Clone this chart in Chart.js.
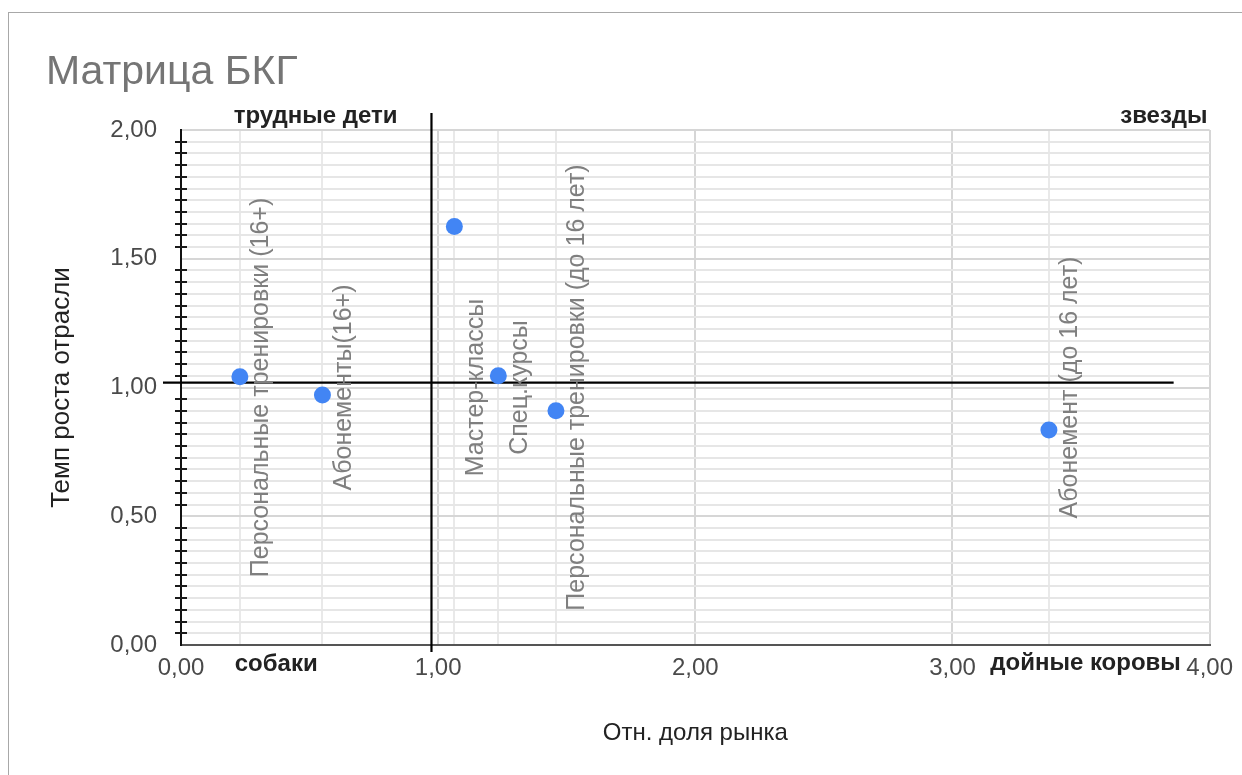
<!DOCTYPE html>
<html>
<head>
<meta charset="utf-8">
<title>Матрица БКГ</title>
<script src="https://cdn.jsdelivr.net/npm/chart.js@4.4.1/dist/chart.umd.min.js"></script>
<style>
  html, body { margin: 0; padding: 0; background: #ffffff; }
  #frame { position: absolute; left: 8px; top: 12px; right: 0; bottom: 0;
           border-left: 1px solid #a8a8a8; border-top: 1px solid #a8a8a8; }
  #wrap { position: absolute; left: 0; top: 0; width: 1242px; height: 775px; }
</style>
</head>
<body>
<div id="frame"></div>
<div id="wrap"><canvas id="bcg" width="1242" height="775"></canvas></div>
<script>
// ---- data ----
const chartTitle = 'Матрица БКГ';
const xAxisTitle = 'Отн. доля рынка';
const yAxisTitle = 'Темп роста отрасли';

const products = [
  'Персональные тренировки (16+)',
  'Абонементы(16+)',
  'Мастер-классы',
  'Спец.курсы',
  'Персональные тренировки (до 16 лет)',
  'Абонемент (до 16 лет)'
];
const marketShare = [0.229, 0.550, 1.063, 1.234, 1.458, 3.375];
const growthRate  = [1.042, 0.971, 1.625, 1.046, 0.910, 0.835];

const xTickValues = [0, 1, 2, 3, 4];
const yTickValues = [0, 0.5, 1, 1.5, 2];
const yMinorPerStep = 10;

// quadrant split (market share, growth) and how far the divider lines run
const splitShare = 0.974;
const splitGrowth = 1.019;
const dividerGrowthSpan = [-0.027, 2.066];
const dividerShareSpan = [-0.07, 3.86];

const quadrantNames = ['трудные дети', 'звезды', 'собаки', 'дойные коровы'];

// ---- styling / placement ----
const FONT = "'Liberation Sans', Arial, sans-serif";
const quadrantPlacement = [
  { x: 0.205, y: 2.054, align: 'left' },
  { x: 3.992, y: 2.054, align: 'right' },
  { x: 0.209, y: -0.074, align: 'left' },
  { x: 3.888, y: -0.072, align: 'right' }
];

const fmt = v => v.toFixed(2).replace('.', ',');

function buildYTicks() {
  const t = [];
  for (let i = 0; i < yTickValues.length; i++) {
    t.push({ value: yTickValues[i], major: true });
    if (i < yTickValues.length - 1) {
      const a = yTickValues[i], b = yTickValues[i + 1];
      for (let k = 1; k <= yMinorPerStep; k++) {
        t.push({ value: a + (b - a) * k / (yMinorPerStep + 1), major: false });
      }
    }
  }
  return t;
}

function buildXTicks() {
  const t = xTickValues.map(v => ({ value: v, major: true }));
  marketShare.forEach(v => t.push({ value: v, major: false }));
  return t.sort((a, b) => a.value - b.value);
}

// minor tick marks across the y axis, product labels, quadrant names
const decor = {
  id: 'bcgDecor',
  afterDatasetsDraw(chart) {
    const { ctx, chartArea, scales: { x, y } } = chart;
    ctx.save();

    // minor tick marks crossing the vertical axis
    ctx.strokeStyle = '#1a1a1a';
    ctx.lineWidth = 2;
    const ax = x.getPixelForValue(0);
    y.ticks.forEach(t => {
      if (t.major) return;
      const py = Math.round(y.getPixelForValue(t.value));
      ctx.beginPath();
      ctx.moveTo(ax - 6, py);
      ctx.lineTo(ax + 6, py);
      ctx.stroke();
    });

    // product names, rotated, beside each point
    const meta = chart.getDatasetMeta(0);
    const midY = (chartArea.top + chartArea.bottom) / 2;
    ctx.fillStyle = '#7f7f7f';
    ctx.font = '25px ' + FONT;
    ctx.textAlign = 'center';
    ctx.textBaseline = 'middle';
    meta.data.forEach((pt, i) => {
      ctx.save();
      ctx.translate(pt.x + 21.5, midY);
      ctx.rotate(-Math.PI / 2);
      ctx.fillText(products[i], 0, 0);
      ctx.restore();
    });

    // quadrant names
    ctx.fillStyle = '#222222';
    ctx.font = 'bold 24px ' + FONT;
    ctx.textBaseline = 'middle';
    quadrantNames.forEach((name, i) => {
      const p = quadrantPlacement[i];
      ctx.textAlign = p.align;
      ctx.fillText(name, x.getPixelForValue(p.x), y.getPixelForValue(p.y));
    });

    ctx.restore();
  }
};

new Chart(document.getElementById('bcg'), {
  type: 'scatter',
  data: {
    datasets: [
      {
        type: 'scatter',
        data: products.map((p, i) => ({ x: marketShare[i], y: growthRate[i] })),
        backgroundColor: '#4285f4',
        borderWidth: 0,
        pointRadius: 8.5,
        pointHoverRadius: 8.5,
        order: 0
      },
      {
        type: 'line',
        data: [{ x: splitShare, y: dividerGrowthSpan[0] }, { x: splitShare, y: dividerGrowthSpan[1] }],
        borderColor: '#000000',
        borderWidth: 2.2,
        pointRadius: 0,
        clip: false,
        order: 1
      },
      {
        type: 'line',
        data: [{ x: dividerShareSpan[0], y: splitGrowth }, { x: dividerShareSpan[1], y: splitGrowth }],
        borderColor: '#000000',
        borderWidth: 2.2,
        pointRadius: 0,
        clip: false,
        order: 1
      }
    ]
  },
  options: {
    responsive: false,
    devicePixelRatio: 1,
    animation: false,
    events: [],
    layout: { padding: { left: 46, top: 0, right: 30, bottom: 20 } },
    plugins: {
      legend: { display: false },
      tooltip: { enabled: false },
      title: {
        display: true,
        text: chartTitle,
        align: 'start',
        color: '#757575',
        font: { family: FONT, size: 41, weight: 'normal' },
        padding: { top: 48.4, bottom: 32.4 }
      }
    },
    scales: {
      x: {
        type: 'linear',
        min: 0,
        max: 4,
        afterBuildTicks: s => { s.ticks = buildXTicks(); },
        afterFit: s => { s.height = 110; },
        ticks: {
          autoSkip: false,
          maxRotation: 0,
          padding: 9,
          color: '#4a4a4a',
          font: { family: FONT, size: 24 },
          callback: (v, i, t) => (t[i].major ? fmt(v) : '')
        },
        grid: {
          drawTicks: false,
          lineWidth: 2,
          color: c => (c.tick && c.tick.major ? '#d6d6d6' : '#e9e9e9')
        },
        border: { color: '#555555', width: 2 },
        title: {
          display: true,
          text: xAxisTitle,
          color: '#222222',
          font: { family: FONT, size: 24 },
          padding: { top: 0, bottom: 7.6 }
        }
      },
      y: {
        type: 'linear',
        min: 0,
        max: 2,
        afterBuildTicks: s => { s.ticks = buildYTicks(); },
        afterFit: s => { s.width = 135; },
        ticks: {
          autoSkip: false,
          padding: 24,
          color: '#4a4a4a',
          font: { family: FONT, size: 24 },
          callback: (v, i, t) => (t[i].major ? fmt(v) : '')
        },
        grid: {
          drawTicks: false,
          lineWidth: 2,
          color: c => (c.tick && c.tick.major ? '#d6d6d6' : '#e6e6e6')
        },
        border: { color: '#111111', width: 2 },
        title: {
          display: true,
          text: yAxisTitle,
          color: '#222222',
          font: { family: FONT, size: 26 },
          padding: { top: 0, bottom: 0 }
        }
      }
    }
  },
  plugins: [decor]
});
</script>
</body>
</html>
